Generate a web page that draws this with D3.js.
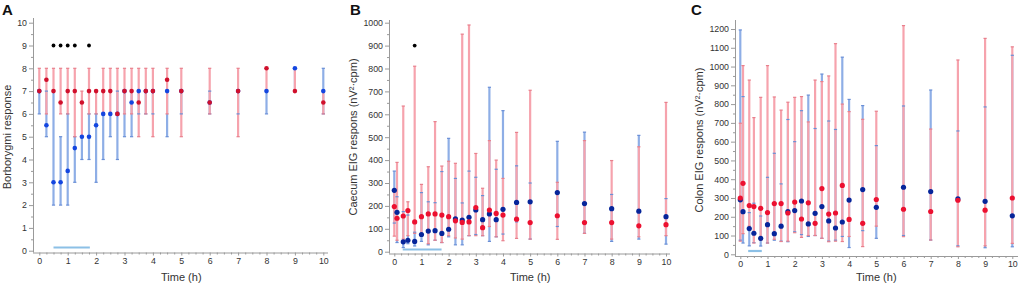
<!DOCTYPE html>
<html>
<head>
<meta charset="utf-8">
<script src="https://cdn.jsdelivr.net/npm/d3@7"></script>
<style>
  body { margin: 0; background: #fff; }
  svg { font-family: "Liberation Sans", Arial, sans-serif; }
  .domain { stroke: #9a9a9a; }
  .tick line { stroke: #9a9a9a; }
  .tick text { fill: #333; font-size: 8.8px; }
</style>
</head>
<body>
<svg id="chart" width="1021" height="285"></svg>
<script>
// [low, median, high] per time point
const timeA = [0, 0.25, 0.5, 0.75, 1, 1.25, 1.5, 1.75, 2, 2.25, 2.5, 2.75, 3, 3.25, 3.5, 3.75, 4, 4.5, 5, 6, 7, 8, 9, 10];
const redA = [[7,7,8],[6,7.5,8],[7,7,8],[6,6.5,8],[6,7,8],[5,7,8],[5,6.5,7],[6,7,8],[6,7,7],[6,7,8],[6,7,8],[6,6,8],
  [6,7,8],[6,7,8],[5,6.5,8],[6,7,8],[5,7,8],[6,7.5,8],[5,7,8],[6,6.5,8],[5,7,8],[7,8,8],[7,7,8],[6,6.5,7]];
const blueA = [[6,7,7],[5,5.5,7],[2,3,7],[2,3,5],[2,3.5,6],[3,4.5,5],[4,5,5],[4,5,6],[3,5.5,6],[4,6,6],[5,6,6],[4,6,7],
  [5,7,7],[5,6.5,7],[6,7,7],[6,7,7],[6,7,7],[5,7,7],[6,7,7],[6,6.5,7],[6,7,7],[6,7,7],[7,8,8],[6,7,8]];
const sigA = [0.5, 0.75, 1, 1.25, 1.75];

const timeBC = [0, 0.1, 0.33, 0.5, 0.75, 1, 1.25, 1.5, 1.75, 2, 2.25, 2.5, 2.75, 3, 3.25, 3.5, 3.75, 4, 4.5, 5, 6, 7, 8, 9, 10];
const redB = [[68,197,270],[50,146,390],[55,156,636],[70,180,218],[80,130,810],[70,153,294],[35,165,371],[50,165,568],
  [40,160,374],[70,153,395],[60,135,386],[55,128,950],[70,130,990],[70,193,429],[70,105,277],[110,182,485],[65,167,400],
  [48,160,320],[58,142,521],[55,127,705],[54,157,303],[80,127,485],[55,127,398],[65,113,458],[70,118,652]];
const blueB = [[125,268,352],[40,172,240],[18,43,175],[35,50,160],[25,45,85],[45,75,258],[30,90,218],[50,92,214],
  [40,80,350],[65,98,495],[30,143,320],[30,138,213],[70,150,352],[75,182,325],[70,140,245],[45,165,718],[65,140,360],
  [77,185,616],[130,215,375],[55,218,300],[110,258,482],[80,210,522],[45,188,250],[55,177,508],[33,153,232]];
const sigB = [0.75];

const redC = [[70,300,698],[110,378,1005],[150,260,928],[60,254,728],[75,245,836],[60,222,1005],[80,270,838],[68,270,768],
  [70,220,810],[115,278,836],[90,188,840],[100,274,705],[100,165,928],[85,350,920],[67,214,950],[70,220,1122],[68,367,800],
  [95,186,760],[41,165,719],[150,292,762],[94,240,1218],[76,228,667],[40,288,1035],[45,235,1150],[58,300,1105]];
const blueC = [[75,290,1195],[60,227,840],[45,137,222],[62,112,272],[44,85,204],[60,158,410],[75,110,538],[70,150,375],
  [67,227,718],[120,233,600],[105,284,765],[95,162,848],[100,218,670],[85,254,960],[70,178,710],[75,140,665],[95,172,1050],
  [36,289,825],[126,345,792],[85,250,579],[100,357,790],[76,334,875],[45,295,657],[35,282,785],[40,205,1060]];

const svg = d3.select("#chart");

const redBar = "#f6a3ad", blueBar = "#8eaee6";
const redCap = "#e8808d", blueCap = "#6a8fd6";

function drawPanel(p) {
    const g = svg.append("g");
    const x = d3.scaleLinear().domain([0, 10]).range([p.x0, p.x1]);
    const y = d3.scaleLinear().domain([0, p.ymax]).range([p.y0, p.y1]);

    // axes
    const xAxis = g.append("g")
        .attr("transform", `translate(0,${p.axisY})`)
        .call(d3.axisBottom(x).tickValues(d3.range(0, 11)).tickSize(3).tickSizeOuter(0).tickPadding(2).tickFormat(d3.format("d")));
    xAxis.select(".domain").attr("d", `M${p.axisX},0.5H${p.axisRight}`);
    g.append("g")
        .attr("transform", `translate(0,${p.axisY})`)
        .call(d3.axisBottom(x).tickValues(d3.range(0, 10.01, 0.25).filter(v => v % 1 !== 0)).tickSize(2).tickFormat(""))
        .select(".domain").remove();

    const yAxis = g.append("g")
        .attr("transform", `translate(${p.axisX},0)`)
        .call(d3.axisLeft(y).tickValues(d3.range(0, p.ymax + 0.001, p.ystep)).tickSize(4).tickSizeOuter(0).tickPadding(2).tickFormat(d3.format("d")));
    yAxis.select(".domain").attr("d", `M0.5,${p.axisY}V${p.axisTop}`);
    g.append("g")
        .attr("transform", `translate(${p.axisX},0)`)
        .call(d3.axisLeft(y).tickValues(d3.range(p.ystep / 2, p.ymax, p.ystep)).tickSize(2).tickFormat(""))
        .select(".domain").remove();

    g.append("text")
        .attr("x", (p.x0 + p.x1) / 2).attr("y", 281)
        .attr("text-anchor", "middle").attr("font-size", "11px").attr("fill", "#333")
        .text("Time (h)");
    g.append("text")
        .attr("transform", `translate(${p.titleX},${p.titleY}) rotate(-90)`)
        .attr("text-anchor", "middle").attr("font-size", "11px").attr("fill", "#333")
        .text(p.yTitle);
    g.append("text")
        .attr("x", p.letterX).attr("y", 15)
        .attr("font-size", "15px").attr("font-weight", "bold").attr("fill", "#111")
        .text(p.letter);

    // treatment period bar
    g.append("line")
        .attr("x1", x(p.treat[0])).attr("x2", x(p.treat[1]))
        .attr("y1", p.treatY).attr("y2", p.treatY)
        .attr("stroke", "#8cc0e6").attr("stroke-width", 2.2);

    const series = [
        { data: p.blue, bar: blueBar, cap: blueCap, dot: p.blueDot },
        { data: p.red, bar: redBar, cap: redCap, dot: p.redDot }
    ];

    series.forEach(s => {
        g.selectAll(null).data(s.data).enter().append("line")
            .attr("x1", (d, i) => x(p.time[i])).attr("x2", (d, i) => x(p.time[i]))
            .attr("y1", d => y(d[0])).attr("y2", d => y(d[2]))
            .attr("stroke", s.bar).attr("stroke-width", 2.2);
    });
    series.forEach(s => {
        [0, 2].forEach(k => {
            g.selectAll(null).data(s.data).enter().append("line")
                .attr("x1", (d, i) => x(p.time[i]) - 1.6).attr("x2", (d, i) => x(p.time[i]) + 1.6)
                .attr("y1", d => y(d[k])).attr("y2", d => y(d[k]))
                .attr("stroke", s.cap).attr("stroke-width", 1.2);
        });
    });
    series.forEach(s => {
        g.selectAll(null).data(s.data).enter().append("circle")
            .attr("cx", (d, i) => x(p.time[i])).attr("cy", d => y(d[1]))
            .attr("r", p.r).attr("fill", s.dot);
    });

    g.selectAll(null).data(p.sig).enter().append("circle")
        .attr("cx", d => x(d)).attr("cy", y(p.sigY))
        .attr("r", 1.9).attr("fill", "#000");
}

drawPanel({
    letter: "A", letterX: 2, x0: 39.3, x1: 323.3, y0: 250.7, y1: 22.7, ymax: 10, ystep: 1,
    axisX: 33, axisY: 252.5, axisTop: 18, axisRight: 328,
    titleX: 11, titleY: 137, yTitle: "Borborygmi response",
    time: timeA, red: redA, blue: blueA, redDot: "#d0102c", blueDot: "#1446e0", r: 2.3,
    sig: sigA, sigY: 9, treat: [0.5, 1.78], treatY: 247.5
});
drawPanel({
    letter: "B", letterX: 350, x0: 394.3, x1: 666, y0: 251.7, y1: 22.7, ymax: 1000, ystep: 100,
    axisX: 389, axisY: 253.5, axisTop: 20, axisRight: 670,
    titleX: 357, titleY: 137, yTitle: "Caecum EIG respons (nV\u00B2\u00B7cpm)",
    time: timeBC, red: redB, blue: blueB, redDot: "#ec1030", blueDot: "#06259a", r: 2.6,
    sig: sigB, sigY: 900, treat: [0.31, 1.74], treatY: 249.5
});
drawPanel({
    letter: "C", letterX: 691, x0: 740.3, x1: 1012.3, y0: 254.3, y1: 29, ymax: 1200, ystep: 100,
    axisX: 735, axisY: 256, axisTop: 20, axisRight: 1018,
    titleX: 703, titleY: 140, yTitle: "Colon EIG respons (nV\u00B2\u00B7cpm)",
    time: timeBC, red: redC, blue: blueC, redDot: "#ec1030", blueDot: "#06259a", r: 2.6,
    sig: [], sigY: 0, treat: [0.29, 0.79], treatY: 251
});
</script>
</body>
</html>
